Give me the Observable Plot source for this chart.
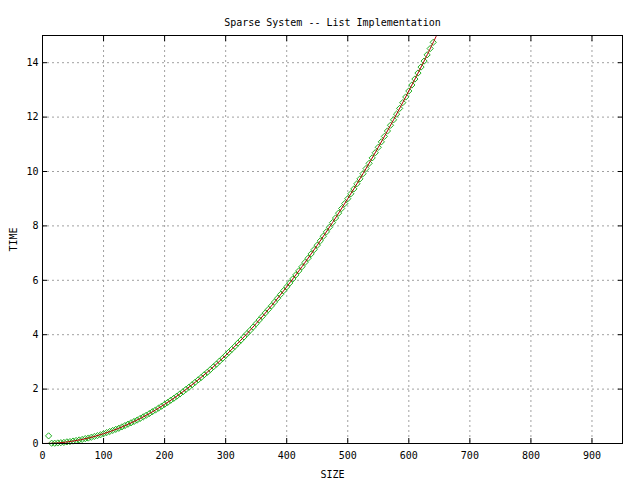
<!DOCTYPE html>
<html>
<head>
<meta charset="utf-8">
<script src="https://cdn.jsdelivr.net/npm/d3@7"></script>
<script src="https://cdn.jsdelivr.net/npm/@observablehq/plot@0.6"></script>
<style>
  html, body { margin: 0; padding: 0; background: #fff; }
</style>
</head>
<body>
<div id="chart"></div>
<script>
const title = "Sparse System -- List Implementation";
const xLabel = "SIZE";
const yLabel = "TIME";
const xTicks = [0, 100, 200, 300, 400, 500, 600, 700, 800, 900];
const yTicks = [0, 2, 4, 6, 8, 10, 12, 14];

// measured points (green diamonds)
const sizes = [10, 15, 20, 25, 30, 35, 40, 45, 50, 55, 60, 65, 70, 75, 80, 85, 90, 95,
  100, 105, 110, 115, 120, 125, 130, 135, 140, 145, 150, 155, 160, 165, 170, 175, 180, 185, 190, 195,
  200, 205, 210, 215, 220, 225, 230, 235, 240, 245, 250, 255, 260, 265, 270, 275, 280, 285, 290, 295,
  300, 305, 310, 315, 320, 325, 330, 335, 340, 345, 350, 355, 360, 365, 370, 375, 380, 385, 390, 395,
  400, 405, 410, 415, 420, 425, 430, 435, 440, 445, 450, 455, 460, 465, 470, 475, 480, 485, 490, 495,
  500, 505, 510, 515, 520, 525, 530, 535, 540, 545, 550, 555, 560, 565, 570, 575, 580, 585, 590, 595,
  600, 605, 610, 615, 620, 625, 630, 635, 640];
const times = [0.28, 0.01, 0.01, 0.02, 0.03, 0.04, 0.06, 0.07, 0.09, 0.11, 0.13, 0.15, 0.18, 0.20, 0.23, 0.26, 0.29, 0.32,
  0.36, 0.40, 0.44, 0.48, 0.52, 0.56, 0.61, 0.66, 0.71, 0.76, 0.81, 0.86, 0.92, 0.98, 1.04, 1.10, 1.17, 1.23, 1.30, 1.37,
  1.44, 1.51, 1.59, 1.66, 1.74, 1.82, 1.90, 1.99, 2.07, 2.16, 2.25, 2.34, 2.43, 2.53, 2.62, 2.72, 2.82, 2.92, 3.03, 3.13,
  3.24, 3.35, 3.46, 3.57, 3.69, 3.80, 3.92, 4.04, 4.16, 4.28, 4.41, 4.54, 4.67, 4.80, 4.93, 5.06, 5.20, 5.34, 5.48, 5.62,
  5.76, 5.90, 6.05, 6.20, 6.35, 6.50, 6.66, 6.81, 6.97, 7.13, 7.29, 7.45, 7.62, 7.78, 7.95, 8.12, 8.29, 8.47, 8.64, 8.82,
  9.00, 9.18, 9.36, 9.55, 9.73, 9.92, 10.11, 10.30, 10.50, 10.69, 10.89, 11.09, 11.29, 11.49, 11.70, 11.90, 12.11, 12.32, 12.53, 12.74,
  12.96, 13.18, 13.40, 13.62, 13.84, 14.06, 14.29, 14.52, 14.75];

// fitted curve (red line)
const fitSizes = [0, 25, 50, 75, 100, 125, 150, 175, 200, 225, 250, 275, 300, 325, 350, 375, 400, 425, 450, 475, 500, 525, 550, 575, 600, 625, 650];
const fitTimes = [0, 0.02, 0.09, 0.20, 0.36, 0.56, 0.81, 1.10, 1.44, 1.82, 2.25, 2.72, 3.24, 3.80, 4.41, 5.06, 5.76, 6.50, 7.29, 8.12, 9.00, 9.92, 10.89, 11.90, 12.96, 14.06, 15.21];

const points = sizes.map((s, i) => ({size: s, time: times[i]}));
const fit = fitSizes.map((s, i) => ({size: s, time: fitTimes[i]}));

const chart = Plot.plot({
  width: 640,
  height: 480,
  marginLeft: 42,
  marginRight: 18,
  marginTop: 35,
  marginBottom: 37,
  style: {fontFamily: "DejaVu Sans Mono", fontSize: "10px", background: "#fff", color: "#000"},
  x: {domain: [0, 950]},
  y: {domain: [0, 15]},
  marks: [
    Plot.gridX(xTicks.filter(d => d > 0), {stroke: "#a0a0a0", strokeOpacity: 1, strokeDasharray: "2,3"}),
    Plot.gridY(yTicks.filter(d => d > 0), {stroke: "#a0a0a0", strokeOpacity: 1, strokeDasharray: "2,3"}),
    Plot.axisX({anchor: "bottom", ticks: xTicks, tickSize: -5, tickPadding: 13, tickFormat: d => d,
      label: xLabel, labelArrow: "none", labelAnchor: "center", labelOffset: 34}),
    Plot.axisX({anchor: "top", ticks: xTicks, tickSize: -5, tickFormat: () => "", label: null}),
    Plot.axisY({anchor: "left", ticks: yTicks, tickSize: -5, tickPadding: 9, tickFormat: d => d,
      label: yLabel, labelArrow: "none", labelAnchor: "center", labelOffset: 33}),
    Plot.axisY({anchor: "right", ticks: yTicks, tickSize: -5, tickFormat: () => "", label: null}),
    Plot.dot(points, {x: "size", y: "time", symbol: "diamond2", r: 2.8, stroke: "#20b020", strokeWidth: 1}),
    Plot.line(fit, {x: "size", y: "time", stroke: "#b00000", strokeWidth: 1, curve: "catmull-rom", clip: true}),
    Plot.frame({stroke: "#000", strokeWidth: 1}),
    Plot.text([title], {frameAnchor: "top", dy: -17, fontSize: 10})
  ]
});
document.getElementById("chart").appendChild(chart);
</script>
</body>
</html>
